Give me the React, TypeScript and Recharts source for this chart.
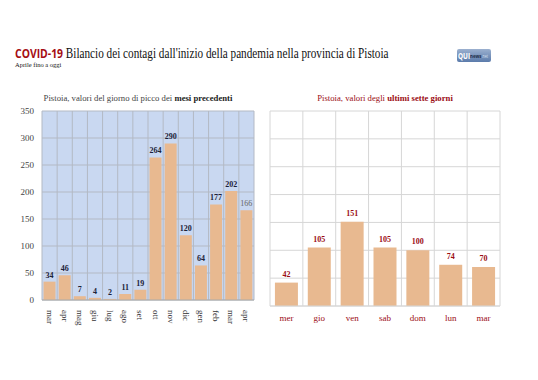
import { BarChart, Bar, XAxis, YAxis, CartesianGrid, LabelList } from 'recharts';

const months = ['mar', 'apr', 'mag', 'giu', 'lug', 'ago', 'set', 'ott', 'nov', 'dic', 'gen', 'feb', 'mar', 'apr'];
const monthPeaks = [34, 46, 7, 4, 2, 11, 19, 264, 290, 120, 64, 177, 202, 166];

const days = ['mer', 'gio', 'ven', 'sab', 'dom', 'lun', 'mar'];
const dayValues = [42, 105, 151, 105, 100, 74, 70];

const yTicks = [0, 50, 100, 150, 200, 250, 300, 350];

const monthData = months.map((m, i) => ({ name: m, value: monthPeaks[i] }));
const dayData = days.map((d, i) => ({ name: d, value: dayValues[i] }));

const serif = '"Liberation Serif", "DejaVu Serif", serif';
const barFill = '#e8b990';

// vertical lines on category boundaries
const bandLines = (n: number) => ({ offset }: any) => {
  const out: number[] = [];
  for (let i = 0; i <= n; i++) out.push(offset.left + (i * offset.width) / n);
  return out;
};

const RotatedTick = (props: any) => {
  const { x, y, payload } = props;
  return (
    <text
      x={0}
      y={0}
      transform={`translate(${x - 3},${y + 2}) rotate(90)`}
      textAnchor="start"
      fontFamily={serif}
      fontSize={9}
      fill="#333"
    >
      {payload.value}
    </text>
  );
};

const MonthLabel = (props: any) => {
  const { x, y, width, value, index } = props;
  const last = index === monthPeaks.length - 1;
  return (
    <text
      x={x + width / 2}
      y={y - 4}
      textAnchor="middle"
      fontFamily={serif}
      fontSize={8}
      fontWeight={last ? 'normal' : 'bold'}
      fill={last ? '#666' : '#1c2238'}
    >
      {value}
    </text>
  );
};

export default function App() {
  return (
    <div style={{ position: 'absolute', left: 0, top: 0, width: 538, height: 380, background: '#fff' }}>
      <div
        style={{
          position: 'absolute', left: 15, top: 44, whiteSpace: 'nowrap', fontSize: 14, fontFamily: serif, color: '#111',
          transform: 'scaleX(0.8)', transformOrigin: 'left top',
        }}
      >
        <span style={{ fontFamily: '"Open Sans", sans-serif', fontWeight: 'bold', color: '#a50e14', fontSize: 13 }}>COVID-19</span>{' '}
        Bilancio dei contagi dall'inizio della pandemia nella provincia di Pistoia
      </div>
      <div style={{ position: 'absolute', left: 15, top: 61, fontSize: 6.5, fontFamily: serif, color: '#111' }}>Aprile fino a oggi</div>
      <div
        style={{
          position: 'absolute', left: 457, top: 49, width: 34, height: 13, borderRadius: 2,
          background: 'linear-gradient(#9bb0cf, #5b7bab)', boxSizing: 'border-box',
        }}
      >
        <div
          style={{
            position: 'absolute', left: 1, top: 0, height: 13, display: 'flex', alignItems: 'center',
            fontFamily: '"Open Sans", sans-serif', whiteSpace: 'nowrap', transform: 'scaleX(0.8)', transformOrigin: 'left center',
          }}
        >
          <span style={{ color: '#fff', fontWeight: 'bold', fontSize: 8 }}>QUI</span>
          <span style={{ color: '#1f2d4a', fontSize: 5.5, fontWeight: 'bold' }}>news</span>
          <span style={{ color: '#d6e0ef', fontSize: 4.5 }}>.net</span>
        </div>
      </div>

      <div style={{ position: 'absolute', left: 0, top: 93, width: 276, textAlign: 'center', fontSize: 8.7, fontFamily: serif, color: '#444' }}>
        Pistoia, valori del giorno di picco dei <b style={{ color: '#222' }}>mesi precedenti</b>
      </div>
      <div style={{ position: 'absolute', left: 270, top: 93, width: 230, textAlign: 'center', fontSize: 8.7, fontFamily: serif, color: '#9b0d14' }}>
        Pistoia, valori degli <b>ultimi sette giorni</b>
      </div>

      <div style={{ position: 'absolute', left: 0, top: 90 }}>
        <BarChart width={270} height={260} data={monthData} margin={{ top: 21, right: 16, left: 12, bottom: 10 }} barCategoryGap="10%">
          <CartesianGrid fill="#c9d8f1" stroke="#b3b9c4" verticalCoordinatesGenerator={bandLines(monthData.length)} />
          <XAxis dataKey="name" height={40} tick={<RotatedTick />} tickLine={false} axisLine={{ stroke: '#aaa' }} interval={0} />
          <YAxis
            width={30}
            domain={[0, 350]}
            ticks={yTicks}
            tickLine={false}
            axisLine={false}
            tick={{ fontFamily: serif, fontSize: 9, fill: '#444' }}
          />
          <Bar dataKey="value" fill={barFill} isAnimationActive={false}>
            <LabelList dataKey="value" content={<MonthLabel />} />
          </Bar>
        </BarChart>
      </div>

      <div style={{ position: 'absolute', left: 262, top: 90 }}>
        <BarChart width={250} height={240} data={dayData} margin={{ top: 21, right: 12, left: 8, bottom: 4 }} barCategoryGap="15%">
          <CartesianGrid stroke="#d6d6d6" verticalCoordinatesGenerator={bandLines(dayData.length)} />
          <XAxis
            dataKey="name"
            height={20}
            tickLine={false}
            axisLine={{ stroke: '#d6d6d6' }}
            interval={0}
            tickMargin={3}
            tick={{ fontFamily: serif, fontSize: 9, fill: '#9b0d14' }}
          />
          <YAxis hide domain={[0, 350]} ticks={yTicks} />
          <Bar dataKey="value" fill={barFill} isAnimationActive={false}>
            <LabelList dataKey="value" position="top" offset={6} style={{ fontFamily: serif, fontSize: 8, fontWeight: 'bold', fill: '#9b0d14' }} />
          </Bar>
        </BarChart>
      </div>
    </div>
  );
}
